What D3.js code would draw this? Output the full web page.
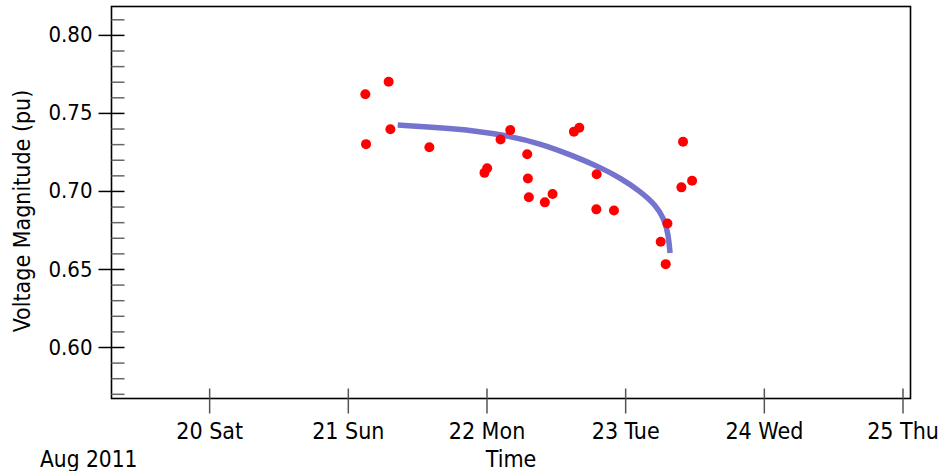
<!DOCTYPE html>
<html>
<head>
<meta charset="utf-8">
<script src="https://cdn.jsdelivr.net/npm/d3@7"></script>
<style>
  html, body { margin: 0; padding: 0; background: #fff; }
  svg { display: block; }
  text { font-family: "DejaVu Sans Condensed", "DejaVu Sans", sans-serif; fill: #000; }
</style>
</head>
<body>
<svg id="chart" width="940" height="471"></svg>
<script>
// Voltage magnitude measurements (timestamp, per-unit value)
const sampleTimes = [
  "2011-08-21T03:02", "2011-08-21T03:09", "2011-08-21T07:04", "2011-08-21T07:22",
  "2011-08-21T14:07", "2011-08-21T23:39", "2011-08-22T00:07", "2011-08-22T02:26",
  "2011-08-22T04:07", "2011-08-22T07:03", "2011-08-22T07:10", "2011-08-22T07:20",
  "2011-08-22T10:06", "2011-08-22T11:26", "2011-08-22T15:08", "2011-08-22T16:04",
  "2011-08-22T19:04", "2011-08-22T19:01", "2011-08-22T22:04", "2011-08-23T06:09",
  "2011-08-23T07:19", "2011-08-23T07:01", "2011-08-23T10:01", "2011-08-23T09:44",
  "2011-08-23T11:35"
];
const sampleVoltages = [
  0.762, 0.730, 0.770, 0.7395,
  0.728, 0.7116, 0.7145, 0.733,
  0.739, 0.7235, 0.708, 0.696,
  0.6927, 0.698, 0.738, 0.7405,
  0.7107, 0.6882, 0.6875, 0.6674,
  0.6792, 0.6531, 0.7315, 0.7023,
  0.7065
];

// Fitted trend curve
const trendTimes = [
  "2011-08-21T08:38", "2011-08-21T16:02", "2011-08-21T21:45", "2011-08-22T03:35",
  "2011-08-22T09:22", "2011-08-22T15:08", "2011-08-22T19:45", "2011-08-22T23:13",
  "2011-08-23T02:41", "2011-08-23T05:17", "2011-08-23T06:40", "2011-08-23T07:27",
  "2011-08-23T07:46"
];
const trendVoltages = [
  0.7423, 0.7405, 0.7387, 0.7355,
  0.7304, 0.7224, 0.7150, 0.7082,
  0.6996, 0.6909, 0.6826, 0.6730,
  0.6603
];

// Axis ticks
const xTickDays = ["2011-08-20", "2011-08-21", "2011-08-22", "2011-08-23", "2011-08-24", "2011-08-25"];
const yMajorTicks = [0.60, 0.65, 0.70, 0.75, 0.80];
const yMinorTicks = [0.57, 0.58, 0.59, 0.61, 0.62, 0.63, 0.64, 0.66, 0.67, 0.68, 0.69,
                     0.71, 0.72, 0.73, 0.74, 0.76, 0.77, 0.78, 0.79, 0.81];
const xPeriodLabel = "Aug 2011";
const xTitle = "Time";
const yTitle = "Voltage Magnitude (pu)";

const parseTime = d3.timeParse("%Y-%m-%dT%H:%M");
const parseDay = d3.timeParse("%Y-%m-%d");

const plot = { left: 111.5, right: 910.5, top: 6.5, bottom: 398.5 };

const x = d3.scaleTime()
  .domain([parseTime("2011-08-19T07:06"), parseTime("2011-08-25T01:23")])
  .range([plot.left, plot.right]);
const y = d3.scaleLinear()
  .domain([0.567, 0.8182])
  .range([plot.bottom, plot.top]);

const svg = d3.select("#chart");

// Frame
svg.append("rect")
  .attr("x", plot.left).attr("y", plot.top)
  .attr("width", plot.right - plot.left).attr("height", plot.bottom - plot.top)
  .attr("fill", "none").attr("stroke", "#000").attr("stroke-width", 1.6);

// Y axis: inner ticks (minor + major)
const yInner = svg.append("g")
  .attr("transform", `translate(${plot.left},0)`)
  .call(d3.axisRight(y).tickValues(yMinorTicks.concat(yMajorTicks)).tickSize(13).tickFormat(""));
yInner.select(".domain").remove();
yInner.selectAll(".tick line")
  .attr("stroke", d => yMajorTicks.includes(d) ? "#000" : "#666")
  .attr("stroke-width", 1.5);

// Y axis: outer major ticks with labels
const yOuter = svg.append("g")
  .attr("transform", `translate(${plot.left},0)`)
  .call(d3.axisLeft(y).tickValues(yMajorTicks).tickSize(13).tickPadding(6).tickFormat(d3.format(".2f")));
yOuter.select(".domain").remove();
yOuter.selectAll(".tick line").attr("stroke", "#000").attr("stroke-width", 1.5);
yOuter.selectAll(".tick text").attr("font-size", 22).attr("fill", "#000");

// X axis
const xDays = xTickDays.map(parseDay);
const xInner = svg.append("g")
  .attr("transform", `translate(0,${plot.bottom})`)
  .call(d3.axisTop(x).tickValues(xDays).tickSize(10).tickFormat(""));
xInner.select(".domain").remove();
xInner.selectAll(".tick line").attr("stroke", "#555").attr("stroke-width", 1.5);

const xOuter = svg.append("g")
  .attr("transform", `translate(0,${plot.bottom})`)
  .call(d3.axisBottom(x).tickValues(xDays).tickSize(15).tickPadding(9).tickFormat(d3.timeFormat("%-d %a")));
xOuter.select(".domain").remove();
xOuter.selectAll(".tick line").attr("stroke", "#555").attr("stroke-width", 1.5);
xOuter.selectAll(".tick text").attr("font-size", 23).attr("fill", "#000");

// Titles
svg.append("text")
  .attr("x", 40).attr("y", 467)
  .attr("font-size", 22.5)
  .text(xPeriodLabel);
svg.append("text")
  .attr("x", (plot.left + plot.right) / 2).attr("y", 467)
  .attr("text-anchor", "middle")
  .attr("font-size", 23)
  .text(xTitle);
svg.append("text")
  .attr("transform", `translate(22,211) rotate(-90)`)
  .attr("text-anchor", "middle")
  .attr("dominant-baseline", "central")
  .attr("font-size", 23)
  .text(yTitle);

// Trend curve
const trend = trendTimes.map((t, i) => ({ t: parseTime(t), v: trendVoltages[i] }));
svg.append("path")
  .datum(trend)
  .attr("fill", "none")
  .attr("stroke", "#7474cf")
  .attr("stroke-width", 5.5)
  .attr("d", d3.line().x(d => x(d.t)).y(d => y(d.v)).curve(d3.curveBasis));

// Measurements
const samples = sampleTimes.map((t, i) => ({ t: parseTime(t), v: sampleVoltages[i] }));
svg.append("g")
  .selectAll("circle")
  .data(samples)
  .join("circle")
  .attr("cx", d => x(d.t))
  .attr("cy", d => y(d.v))
  .attr("r", 5)
  .attr("fill", "#ff0000");
</script>
</body>
</html>
